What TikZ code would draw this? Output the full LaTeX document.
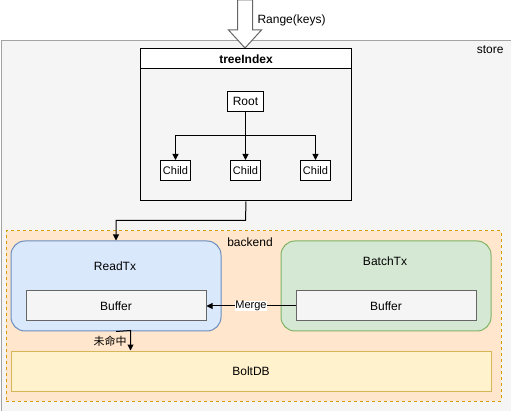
\documentclass[tikz,border=0pt]{standalone}
\usepackage{fontspec}
\setmainfont{Liberation Sans}
\newfontfamily\cjk{Noto Sans CJK SC}
\usetikzlibrary{arrows.meta,positioning}
\definecolor{storefill}{HTML}{F5F5F5}
\definecolor{storeline}{HTML}{666666}
\definecolor{backfill}{HTML}{FFE6CC}
\definecolor{backline}{HTML}{D79B00}
\definecolor{bluefill}{HTML}{DAE8FC}
\definecolor{blueline}{HTML}{6C8EBF}
\definecolor{greenfill}{HTML}{D5E8D4}
\definecolor{greenline}{HTML}{82B366}
\definecolor{yelfill}{HTML}{FFF2CC}
\definecolor{yelline}{HTML}{D6B656}
\tikzset{
  every path/.style={line width=1pt},
  plainbox/.style={draw=black, fill=white, inner sep=0pt, minimum height=20pt, font=\fontsize{11}{13}\selectfont},
  bufbox/.style={draw=storeline, fill=storefill, minimum width=180pt, minimum height=30pt, inner sep=0pt, font=\fontsize{12}{14}\selectfont},
  txbox/.style={rounded corners=14pt, minimum width=210pt, minimum height=90pt, inner sep=0pt},
  conn/.style={draw=black, -{Triangle[length=6pt,width=6pt]}},
  lbl/.style={font=\fontsize{12}{14}\selectfont, inner sep=0pt},
}
\begin{document}
\begin{tikzpicture}[x=1pt,y=-1pt]
\useasboundingbox (0,0) rectangle (511,411);
% store
\node[draw=storeline!60, fill=storefill, minimum width=510pt, minimum height=370pt, inner sep=0pt, anchor=north west] (store) at (0.5,40.5) {};
\node[lbl, anchor=north east] (storelbl) at (504,45) {store};
% big arrow
\draw[draw=storeline, fill=white] (237.5,0) -- (252.5,0) -- (252.5,30) -- (261.5,30) -- (245,48) -- (228.5,30) -- (237.5,30) -- cycle;
\node[lbl, anchor=west] (range) at (257,20) {Range(keys)};
% treeIndex
\node[draw=black, fill=storefill, minimum width=211pt, minimum height=152pt, inner sep=0pt, anchor=north west] (tree) at (140,48.5) {};
\node[draw=black, fill=white, minimum width=211pt, minimum height=20pt, inner sep=0pt, anchor=north west, font=\bfseries\fontsize{12}{14}\selectfont] (treehead) at (140,48.5) {treeIndex};
\node[plainbox, minimum width=36pt, font=\fontsize{12}{14}\selectfont] (root) at (245.5,101.5) {Root};
\node[plainbox, minimum width=30pt] (c1) at (175.5,170.5) {Child};
\node[plainbox, minimum width=30pt] (c2) at (245.5,170.5) {Child};
\node[plainbox, minimum width=30pt] (c3) at (315.5,170.5) {Child};
\draw[conn] (root.south) -- (c2.north);
\draw[conn] (root.south) |- (245.5,135.5) -| (c1.north);
\draw[conn] (root.south) |- (245.5,135.5) -| (c3.north);
% backend
\node[draw=backline, dashed, fill=backfill, minimum width=495pt, minimum height=170pt, inner sep=0pt, anchor=north west] (backend) at (5.5,230.5) {};
\node[lbl] (backlbl) at (250,242) {backend};
% ReadTx
\node[txbox, draw=blueline, fill=bluefill, anchor=north west] (readtx) at (10.5,240.5) {};
\node[lbl] (readlbl) at (115,266) {ReadTx};
\node[bufbox, anchor=north west] (rbuf) at (25.5,290.5) {Buffer};
% BatchTx
\node[txbox, draw=greenline, fill=greenfill, anchor=north west] (batchtx) at (280.5,240.5) {};
\node[lbl] (batchlbl) at (385,261) {BatchTx};
\node[bufbox, anchor=north west] (bbuf) at (295.5,290.5) {Buffer};
% BoltDB
\node[draw=yelline, fill=yelfill, minimum width=480pt, minimum height=40pt, inner sep=0pt, anchor=north west, font=\fontsize{12}{14}\selectfont] (bolt) at (10.5,350.5) {BoltDB};
% connectors
\draw[conn] (tree.south) -- (245.5,220.5) -| (readtx.north);
\draw[conn] (bbuf.west) -- node[fill=white, inner sep=0.5pt, font=\fontsize{11}{13}\selectfont] (mergelbl) {Merge} (rbuf.east);
\coordinate (miss) at (130.5,330.5);
\draw[conn] (readtx.south) -- (miss) -- (miss |- bolt.north);
\node[font=\cjk\fontsize{11}{13}\selectfont, inner sep=0pt] (misslbl) at (110,341) {未命中};
\end{tikzpicture}
\end{document}
